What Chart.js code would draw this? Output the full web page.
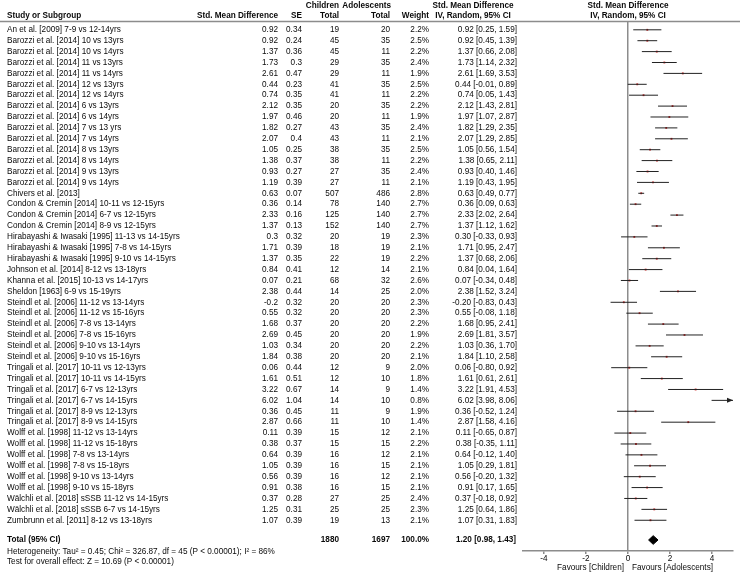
<!DOCTYPE html>
<html>
<head>
<meta charset="utf-8">
<script src="https://cdn.jsdelivr.net/npm/chart.js@4.4.1/dist/chart.umd.min.js"></script>
<style>
  body { margin: 0; background: #fff; }
  canvas { display: block; }
</style>
</head>
<body>
<canvas id="forestChart" width="740" height="578"></canvas>
<script>
// study rows, top to bottom
const studies = [
  'An et al. [2009] 7-9 vs 12-14yrs',
  'Barozzi et al. [2014] 10 vs 13yrs',
  'Barozzi et al. [2014] 10 vs 14yrs',
  'Barozzi et al. [2014] 11 vs 13yrs',
  'Barozzi et al. [2014] 11 vs 14yrs',
  'Barozzi et al. [2014] 12 vs 13yrs',
  'Barozzi et al. [2014] 12 vs 14yrs',
  'Barozzi et al. [2014] 6 vs 13yrs',
  'Barozzi et al. [2014] 6 vs 14yrs',
  'Barozzi et al. [2014] 7 vs 13 yrs',
  'Barozzi et al. [2014] 7 vs 14yrs',
  'Barozzi et al. [2014] 8 vs 13yrs',
  'Barozzi et al. [2014] 8 vs 14yrs',
  'Barozzi et al. [2014] 9 vs 13yrs',
  'Barozzi et al. [2014] 9 vs 14yrs',
  'Chivers et al. [2013]',
  'Condon & Cremin [2014] 10-11 vs 12-15yrs',
  'Condon & Cremin [2014] 6-7 vs 12-15yrs',
  'Condon & Cremin [2014] 8-9 vs 12-15yrs',
  'Hirabayashi & Iwasaki [1995] 11-13 vs 14-15yrs',
  'Hirabayashi & Iwasaki [1995] 7-8 vs 14-15yrs',
  'Hirabayashi & Iwasaki [1995] 9-10 vs 14-15yrs',
  'Johnson et al. [2014] 8-12 vs 13-18yrs',
  'Khanna et al. [2015] 10-13 vs 14-17yrs',
  'Sheldon [1963] 6-9 vs 15-19yrs',
  'Steindl et al. [2006] 11-12 vs 13-14yrs',
  'Steindl et al. [2006] 11-12 vs 15-16yrs',
  'Steindl et al. [2006] 7-8 vs 13-14yrs',
  'Steindl et al. [2006] 7-8 vs 15-16yrs',
  'Steindl et al. [2006] 9-10 vs 13-14yrs',
  'Steindl et al. [2006] 9-10 vs 15-16yrs',
  'Tringali et al. [2017] 10-11 vs 12-13yrs',
  'Tringali et al. [2017] 10-11 vs 14-15yrs',
  'Tringali et al. [2017] 6-7 vs 12-13yrs',
  'Tringali et al. [2017] 6-7 vs 14-15yrs',
  'Tringali et al. [2017] 8-9 vs 12-13yrs',
  'Tringali et al. [2017] 8-9 vs 14-15yrs',
  'Wolff et al. [1998] 11-12 vs 13-14yrs',
  'Wolff et al. [1998] 11-12 vs 15-18yrs',
  'Wolff et al. [1998] 7-8 vs 13-14yrs',
  'Wolff et al. [1998] 7-8 vs 15-18yrs',
  'Wolff et al. [1998] 9-10 vs 13-14yrs',
  'Wolff et al. [1998] 9-10 vs 15-18yrs',
  'Wälchli et al. [2018] sSSB 11-12 vs 14-15yrs',
  'Wälchli et al. [2018] sSSB 6-7 vs 14-15yrs',
  'Zumbrunn et al. [2011] 8-12 vs 13-18yrs'
];
const smd = [0.92, 0.92, 1.37, 1.73, 2.61, 0.44, 0.74, 2.12, 1.97, 1.82, 2.07, 1.05, 1.38, 0.93, 1.19, 0.63,
  0.36, 2.33, 1.37, 0.3, 1.71, 1.37, 0.84, 0.07, 2.38, -0.2, 0.55, 1.68, 2.69, 1.03, 1.84, 0.06, 1.61, 3.22,
  6.02, 0.36, 2.87, 0.11, 0.38, 0.64, 1.05, 0.56, 0.91, 0.37, 1.25, 1.07];
const se = [0.34, 0.24, 0.36, 0.3, 0.47, 0.23, 0.35, 0.35, 0.46, 0.27, 0.4, 0.25, 0.37, 0.27, 0.39, 0.07,
  0.14, 0.16, 0.13, 0.32, 0.39, 0.35, 0.41, 0.21, 0.44, 0.32, 0.32, 0.37, 0.45, 0.34, 0.38, 0.44, 0.51, 0.67,
  1.04, 0.45, 0.66, 0.39, 0.37, 0.39, 0.39, 0.39, 0.38, 0.28, 0.31, 0.39];
const childrenTotal = [19, 45, 45, 29, 29, 41, 41, 20, 20, 43, 43, 38, 38, 27, 27, 507, 78, 125, 152, 20, 18, 22,
  12, 68, 14, 20, 20, 20, 20, 20, 20, 12, 12, 14, 14, 11, 11, 15, 15, 16, 16, 16, 16, 27, 25, 19];
const adolescentsTotal = [20, 35, 11, 35, 11, 35, 11, 35, 11, 35, 11, 35, 11, 35, 11, 486, 140, 140, 140, 19, 19, 19,
  14, 32, 25, 20, 20, 20, 20, 20, 20, 9, 10, 9, 10, 9, 10, 12, 15, 12, 15, 12, 15, 25, 25, 13];
const weights = [2.2, 2.5, 2.2, 2.4, 1.9, 2.5, 2.2, 2.2, 1.9, 2.4, 2.1, 2.5, 2.2, 2.4, 2.1, 2.8, 2.7, 2.7, 2.7,
  2.3, 2.1, 2.2, 2.1, 2.6, 2.0, 2.3, 2.3, 2.2, 1.9, 2.2, 2.1, 2.0, 1.8, 1.4, 0.8, 1.9, 1.4, 2.1, 2.2, 2.1, 2.1,
  2.1, 2.1, 2.4, 2.3, 2.1];
const ciLow = [0.25, 0.45, 0.66, 1.14, 1.69, -0.01, 0.05, 1.43, 1.07, 1.29, 1.29, 0.56, 0.65, 0.40, 0.43, 0.49,
  0.09, 2.02, 1.12, -0.33, 0.95, 0.68, 0.04, -0.34, 1.52, -0.83, -0.08, 0.95, 1.81, 0.36, 1.10, -0.80, 0.61,
  1.91, 3.98, -0.52, 1.58, -0.65, -0.35, -0.12, 0.29, -0.20, 0.17, -0.18, 0.64, 0.31];
const ciHigh = [1.59, 1.39, 2.08, 2.32, 3.53, 0.89, 1.43, 2.81, 2.87, 2.35, 2.85, 1.54, 2.11, 1.46, 1.95, 0.77,
  0.63, 2.64, 1.62, 0.93, 2.47, 2.06, 1.64, 0.48, 3.24, 0.43, 1.18, 2.41, 3.57, 1.70, 2.58, 0.92, 2.61, 4.53,
  8.06, 1.24, 4.16, 0.87, 1.11, 1.40, 1.81, 1.32, 1.65, 0.92, 1.86, 1.83];

const totalChildren = 1880;
const totalAdolescents = 1697;
const totalWeight = 100.0;
const pooledEstimate = [1.20, 0.98, 1.43]; // est, low, high

const xTicks = [-4, -2, 0, 2, 4];
const heterogeneityText = 'Heterogeneity: Tau² = 0.45; Chi² = 326.87, df = 45 (P < 0.00001); I² = 86%';
const overallText = 'Test for overall effect: Z = 10.69 (P < 0.00001)';

// layout (row units on the y scale)
const X_MIN = -5, X_MAX = 5;
const TOTAL_ROW = 47.81;
const HET_ROW = 48.9;
const TEST_ROW = 49.82;
const FONT = '"Liberation Sans", Arial, sans-serif';
const FSIZE = 8.2;
const TEXT_COLOR = '#0a0a0a';

// CI segments, separated by gaps
const segData = [];
studies.forEach((s, i) => {
  segData.push({x: ciLow[i], y: i + 1});
  segData.push({x: Math.min(ciHigh[i], X_MAX), y: i + 1});
  segData.push({x: null, y: null});
});
const pointData = smd.map((v, i) => ({x: v, y: i + 1}));
const diamondData = [
  {x: pooledEstimate[1], y: TOTAL_ROW},
  {x: pooledEstimate[0], y: TOTAL_ROW - 0.4},
  {x: pooledEstimate[2], y: TOTAL_ROW},
  {x: pooledEstimate[0], y: TOTAL_ROW + 0.4},
  {x: pooledEstimate[1], y: TOTAL_ROW}
];

function fmt2(v) { return v.toFixed(2); }

const tableText = {
  id: 'tableText',
  afterDraw(chart) {
    const ctx = chart.ctx;
    const ys = chart.scales.y;
    const xs = chart.scales.x;
    const area = chart.chartArea;
    const plotCenter = (area.left + area.right) / 2;
    ctx.save();
    ctx.fillStyle = TEXT_COLOR;
    ctx.textBaseline = 'middle';

    function txt(s, x, y, align, bold) {
      ctx.font = (bold ? 'bold ' : '') + FSIZE + 'px ' + FONT;
      ctx.textAlign = align;
      ctx.fillText(s, x, y);
    }

    // header
    txt('Children', 339, 6, 'right', true);
    txt('Adolescents', 391, 6, 'right', true);
    txt('Std. Mean Difference', 473, 6, 'center', true);
    txt('Std. Mean Difference', plotCenter, 6, 'center', true);
    txt('Study or Subgroup', 7, 16, 'left', true);
    txt('Std. Mean Difference', 278, 16, 'right', true);
    txt('SE', 302, 16, 'right', true);
    txt('Total', 339, 16, 'right', true);
    txt('Total', 390, 16, 'right', true);
    txt('Weight', 429, 16, 'right', true);
    txt('IV, Random, 95% CI', 473, 16, 'center', true);
    txt('IV, Random, 95% CI', plotCenter, 16, 'center', true);

    // header rule
    ctx.strokeStyle = '#8c8c8c';
    ctx.lineWidth = 1.5;
    ctx.beginPath();
    ctx.moveTo(0, area.top - 0.5);
    ctx.lineTo(740, area.top - 0.5);
    ctx.stroke();

    // rows
    studies.forEach((name, i) => {
      const y = ys.getPixelForValue(i + 1);
      txt(name, 7, y, 'left');
      txt(String(smd[i]), 278, y, 'right');
      txt(String(se[i]), 302, y, 'right');
      txt(String(childrenTotal[i]), 339, y, 'right');
      txt(String(adolescentsTotal[i]), 390, y, 'right');
      txt(weights[i].toFixed(1) + '%', 429, y, 'right');
      txt(fmt2(smd[i]) + ' [' + fmt2(ciLow[i]) + ', ' + fmt2(ciHigh[i]) + ']', 517, y, 'right');
    });

    // total row
    const ty = ys.getPixelForValue(TOTAL_ROW);
    txt('Total (95% CI)', 7, ty, 'left', true);
    txt(String(totalChildren), 339, ty, 'right', true);
    txt(String(totalAdolescents), 390, ty, 'right', true);
    txt(totalWeight.toFixed(1) + '%', 429, ty, 'right', true);
    txt(fmt2(pooledEstimate[0]) + ' [' + fmt2(pooledEstimate[1]) + ', ' + fmt2(pooledEstimate[2]) + ']', 516, ty, 'right', true);

    txt(heterogeneityText, 7, ys.getPixelForValue(HET_ROW), 'left');
    txt(overallText, 7, ys.getPixelForValue(TEST_ROW), 'left');

    // favours labels
    const zx = xs.getPixelForValue(0);
    txt('Favours [Children]', zx - 4, 568, 'right');
    txt('Favours [Adolescents]', zx + 4, 568, 'left');

    // arrows for CIs running off the right edge
    ctx.fillStyle = '#222';
    studies.forEach((name, i) => {
      if (ciHigh[i] > X_MAX) {
        const ax = xs.getPixelForValue(X_MAX);
        const ay = ys.getPixelForValue(i + 1);
        ctx.beginPath();
        ctx.moveTo(ax, ay);
        ctx.lineTo(ax - 6, ay - 2.5);
        ctx.lineTo(ax - 6, ay + 2.5);
        ctx.closePath();
        ctx.fill();
      }
    });
    ctx.restore();
  }
};

const ctx = document.getElementById('forestChart').getContext('2d');
const forestChart = new Chart(ctx, {
  type: 'scatter',
  data: {
    datasets: [
      {
        label: 'CI',
        data: segData,
        showLine: true,
        spanGaps: false,
        borderColor: '#222',
        borderWidth: 1,
        pointRadius: 0
      },
      {
        label: 'Estimate',
        data: pointData,
        pointStyle: 'rect',
        pointRadius: 1.3,
        backgroundColor: '#cc1f1f',
        borderWidth: 0
      },
      {
        label: 'Total',
        data: diamondData,
        showLine: true,
        fill: 'shape',
        borderColor: '#000',
        backgroundColor: '#000',
        borderWidth: 1,
        pointRadius: 0
      }
    ]
  },
  options: {
    responsive: false,
    devicePixelRatio: 1,
    animation: false,
    layout: { padding: { left: 523, right: 7, top: 22, bottom: 13 } },
    plugins: {
      legend: { display: false },
      tooltip: { enabled: false }
    },
    scales: {
      x: {
        type: 'linear',
        min: X_MIN,
        max: X_MAX,
        afterBuildTicks: s => { s.ticks = xTicks.map(v => ({ value: v })); },
        afterFit: s => { s.height = 14; },
        ticks: { font: { family: FONT, size: FSIZE }, color: TEXT_COLOR, padding: 0 },
        grid: {
          color: c => (c.tick && c.tick.value === 0) ? '#8c8c8c' : 'rgba(0,0,0,0)',
          lineWidth: 1.5,
          tickColor: '#8c8c8c',
          tickLength: 3
        },
        border: { color: '#8c8c8c', width: 1.5 }
      },
      y: {
        type: 'linear',
        reverse: true,
        min: 0.284,
        max: 48.82,
        display: false
      }
    }
  },
  plugins: [tableText]
});
</script>
</body>
</html>
